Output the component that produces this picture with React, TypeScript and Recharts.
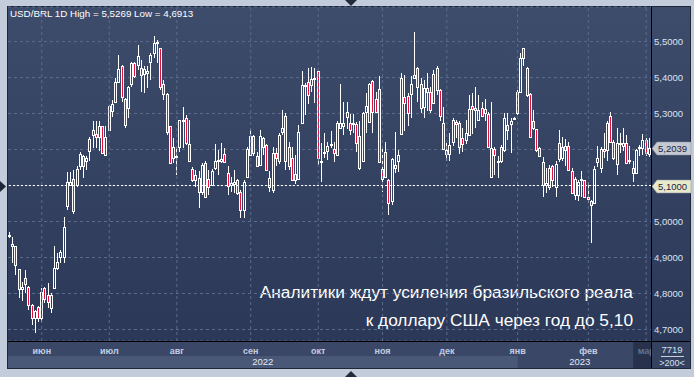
import React from 'react';
import { ComposedChart, Bar, XAxis, YAxis, CartesianGrid, ReferenceLine } from 'recharts';

// Trading-day index of the first session of each month shown on the time axis
const monthStarts = [10, 31, 52, 75, 96, 116, 136, 158, 180, 198];
const monthLabels = ['июн', 'июл', 'авг', 'сен', 'окт', 'ноя', 'дек', 'янв', 'фев', 'мар'];
const yearLabels = ['2022', '2023'];
const priceTicks = [4.7, 4.8, 4.9, 5.0, 5.1, 5.2, 5.3, 5.4, 5.5];
const targetLevel = 5.1;
const symbolTitle = 'USD/BRL 1D';
const headline = ['Аналитики ждут усиления бразильского реала', 'к доллару США через год до 5,10'];

// Daily USD/BRL candles, May 2022 - March 2023
const opens = [
  4.960, 4.931, 4.931, 4.868, 4.812, 4.843, 4.818, 4.768, 4.731, 4.762,
  4.733, 4.815, 4.795, 4.761, 4.815, 4.872, 4.900, 4.900, 5.042, 5.102,
  5.118, 5.102, 5.153, 5.182, 5.167, 5.197, 5.241, 5.244, 5.236, 5.264,
  5.185, 5.255, 5.306, 5.331, 5.387, 5.432, 5.340, 5.315, 5.382, 5.440,
  5.435, 5.426, 5.410, 5.412, 5.442, 5.468, 5.495, 5.481, 5.381, 5.354,
  5.264, 5.176, 5.178, 5.206, 5.281, 5.287, 5.215, 5.145, 5.116, 5.120,
  5.083, 5.162, 5.118, 5.102, 5.148, 5.169, 5.169, 5.187, 5.134, 5.102,
  5.105, 5.114, 5.083, 5.032, 5.125, 5.185, 5.238, 5.181, 5.157, 5.231,
  5.213, 5.120, 5.088, 5.190, 5.167, 5.248, 5.294, 5.206, 5.176, 5.131,
  5.119, 5.273, 5.378, 5.389, 5.378, 5.396, 5.417, 5.169, 5.190, 5.197,
  5.213, 5.201, 5.185, 5.261, 5.264, 5.289, 5.273, 5.273, 5.270, 5.238,
  5.167, 5.304, 5.276, 5.391, 5.341, 5.369, 5.146, 5.194, 5.116, 5.056,
  5.157, 5.169, 5.243, 5.347, 5.350, 5.354, 5.400, 5.426, 5.381, 5.319,
  5.361, 5.361, 5.329, 5.426, 5.366, 5.273, 5.187, 5.187, 5.220, 5.276,
  5.273, 5.231, 5.227, 5.241, 5.322, 5.315, 5.282, 5.315, 5.301, 5.298,
  5.125, 5.202, 5.165, 5.167, 5.199, 5.269, 5.270, 5.287, 5.301, 5.361,
  5.481, 5.426, 5.355, 5.278, 5.256, 5.204, 5.164, 5.102, 5.097, 5.155,
  5.095, 5.219, 5.176, 5.210, 5.210, 5.139, 5.074, 5.074, 5.114, 5.114,
  5.069, 5.057, 5.051, 5.164, 5.148, 5.201, 5.199, 5.294, 5.222, 5.160,
  5.216, 5.210, 5.218, 5.169, 5.148, 5.136, 5.204, 5.204, 5.227, 5.188,
];
const highs = [
  4.972, 4.958, 4.931, 4.868, 4.833, 4.864, 4.820, 4.770, 4.755, 4.765,
  4.815, 4.817, 4.829, 4.801, 4.932, 4.912, 4.921, 5.012, 5.137, 5.137,
  5.144, 5.153, 5.192, 5.185, 5.182, 5.234, 5.278, 5.278, 5.280, 5.266,
  5.266, 5.324, 5.338, 5.400, 5.463, 5.434, 5.342, 5.377, 5.442, 5.442,
  5.491, 5.449, 5.431, 5.431, 5.469, 5.516, 5.505, 5.483, 5.394, 5.356,
  5.266, 5.233, 5.208, 5.282, 5.318, 5.296, 5.282, 5.151, 5.144, 5.139,
  5.162, 5.167, 5.144, 5.145, 5.216, 5.199, 5.218, 5.204, 5.155, 5.125,
  5.144, 5.118, 5.088, 5.116, 5.208, 5.256, 5.240, 5.194, 5.255, 5.236,
  5.215, 5.139, 5.208, 5.204, 5.245, 5.310, 5.301, 5.222, 5.208, 5.185,
  5.267, 5.417, 5.384, 5.426, 5.428, 5.426, 5.419, 5.218, 5.245, 5.220,
  5.252, 5.220, 5.278, 5.381, 5.333, 5.331, 5.298, 5.298, 5.276, 5.278,
  5.304, 5.356, 5.384, 5.394, 5.361, 5.403, 5.206, 5.222, 5.118, 5.176,
  5.250, 5.199, 5.412, 5.407, 5.356, 5.403, 5.5269, 5.428, 5.398, 5.394,
  5.412, 5.375, 5.421, 5.431, 5.368, 5.319, 5.218, 5.245, 5.287, 5.282,
  5.278, 5.259, 5.282, 5.352, 5.356, 5.375, 5.352, 5.331, 5.341, 5.304,
  5.333, 5.206, 5.181, 5.213, 5.301, 5.301, 5.287, 5.289, 5.366, 5.468,
  5.483, 5.428, 5.357, 5.310, 5.258, 5.208, 5.179, 5.148, 5.157, 5.157,
  5.167, 5.253, 5.236, 5.229, 5.222, 5.148, 5.125, 5.116, 5.139, 5.116,
  5.111, 5.059, 5.153, 5.210, 5.206, 5.245, 5.278, 5.303, 5.227, 5.259,
  5.245, 5.259, 5.241, 5.210, 5.169, 5.201, 5.213, 5.243, 5.231, 5.231,
];
const lows = [
  4.954, 4.884, 4.852, 4.787, 4.778, 4.801, 4.755, 4.713, 4.6913, 4.722,
  4.722, 4.773, 4.759, 4.747, 4.812, 4.866, 4.884, 4.884, 5.032, 5.098,
  5.020, 5.097, 5.144, 5.122, 5.144, 5.169, 5.204, 5.204, 5.197, 5.188,
  5.182, 5.253, 5.290, 5.329, 5.385, 5.333, 5.261, 5.287, 5.375, 5.398,
  5.421, 5.361, 5.356, 5.370, 5.394, 5.454, 5.440, 5.366, 5.338, 5.241,
  5.160, 5.162, 5.130, 5.194, 5.204, 5.213, 5.164, 5.111, 5.097, 5.037,
  5.074, 5.065, 5.074, 5.099, 5.144, 5.130, 5.162, 5.164, 5.074, 5.083,
  5.079, 5.074, 5.009, 5.009, 5.123, 5.181, 5.182, 5.151, 5.153, 5.185,
  5.141, 5.083, 5.079, 5.153, 5.159, 5.241, 5.144, 5.144, 5.114, 5.104,
  5.116, 5.271, 5.296, 5.326, 5.361, 5.329, 5.157, 5.111, 5.176, 5.171,
  5.204, 5.165, 5.181, 5.259, 5.241, 5.257, 5.241, 5.245, 5.194, 5.144,
  5.165, 5.245, 5.273, 5.245, 5.301, 5.162, 5.083, 5.120, 5.019, 5.046,
  5.134, 5.137, 5.239, 5.252, 5.264, 5.287, 5.398, 5.331, 5.301, 5.287,
  5.306, 5.301, 5.326, 5.352, 5.278, 5.199, 5.167, 5.167, 5.211, 5.231,
  5.187, 5.193, 5.215, 5.239, 5.243, 5.259, 5.278, 5.289, 5.278, 5.204,
  5.122, 5.130, 5.120, 5.162, 5.194, 5.227, 5.190, 5.285, 5.296, 5.356,
  5.431, 5.347, 5.234, 5.255, 5.194, 5.179, 5.069, 5.079, 5.088, 5.095,
  5.068, 5.164, 5.167, 5.153, 5.142, 5.077, 5.060, 5.056, 5.069, 5.065,
  5.051, 4.940, 5.049, 5.151, 5.134, 5.176, 5.169, 5.218, 5.171, 5.130,
  5.190, 5.197, 5.160, 5.160, 5.111, 5.134, 5.181, 5.185, 5.182, 5.179,
];
const closes = [
  4.963, 4.937, 4.880, 4.812, 4.819, 4.827, 4.768, 4.733, 4.752, 4.733,
  4.804, 4.784, 4.777, 4.795, 4.872, 4.887, 4.915, 4.986, 5.111, 5.111,
  5.028, 5.145, 5.188, 5.155, 5.176, 5.229, 5.255, 5.236, 5.266, 5.190,
  5.236, 5.321, 5.327, 5.389, 5.423, 5.345, 5.267, 5.373, 5.440, 5.403,
  5.460, 5.407, 5.423, 5.419, 5.463, 5.497, 5.500, 5.373, 5.354, 5.248,
  5.162, 5.206, 5.181, 5.281, 5.282, 5.218, 5.167, 5.114, 5.130, 5.083,
  5.157, 5.069, 5.097, 5.139, 5.169, 5.171, 5.173, 5.165, 5.099, 5.108,
  5.111, 5.079, 5.032, 5.111, 5.201, 5.238, 5.190, 5.155, 5.238, 5.206,
  5.144, 5.097, 5.190, 5.176, 5.241, 5.259, 5.169, 5.153, 5.116, 5.116,
  5.248, 5.380, 5.380, 5.352, 5.396, 5.400, 5.176, 5.167, 5.192, 5.210,
  5.216, 5.189, 5.273, 5.275, 5.273, 5.304, 5.255, 5.275, 5.218, 5.148,
  5.301, 5.321, 5.381, 5.304, 5.304, 5.165, 5.119, 5.125, 5.051, 5.174,
  5.150, 5.185, 5.398, 5.329, 5.301, 5.381, 5.407, 5.375, 5.315, 5.370,
  5.370, 5.310, 5.409, 5.366, 5.292, 5.202, 5.199, 5.213, 5.282, 5.270,
  5.208, 5.215, 5.245, 5.312, 5.313, 5.310, 5.310, 5.292, 5.313, 5.206,
  5.204, 5.185, 5.169, 5.208, 5.287, 5.255, 5.278, 5.287, 5.359, 5.454,
  5.454, 5.352, 5.236, 5.259, 5.199, 5.181, 5.102, 5.108, 5.148, 5.116,
  5.160, 5.173, 5.208, 5.199, 5.144, 5.079, 5.118, 5.111, 5.118, 5.069,
  5.062, 5.046, 5.146, 5.176, 5.201, 5.197, 5.273, 5.222, 5.176, 5.219,
  5.219, 5.218, 5.162, 5.171, 5.136, 5.199, 5.208, 5.227, 5.190, 5.2039,
];

const candles = opens.map((o, i) => ({ i, o, h: highs[i], l: lows[i], c: closes[i] }));

const FONT = '"Liberation Sans", Arial, Helvetica, sans-serif';
const W = 694;
const H = 377;
const PLOT = { left: 8, top: 7, right: 651, bottom: 341 };
const PANEL_RIGHT = 690;
const STRIP_BOTTOM = 368;
const GRID = '#5b6b8d';
const UP_STROKE = '#ffffff';
const DOWN_FILL = '#e6103c';

const fmt = (v: number) => v.toFixed(4).replace('.', ',');
const lastClose = closes[closes.length - 1];
const periodHigh = Math.max(...highs);
const periodLow = Math.min(...lows);

// Axis labels that sit under a price tag are left blank
const tickText = (v: number) =>
  Math.abs(v - targetLevel) < 0.03 || Math.abs(v - lastClose) < 0.03 ? '' : fmt(v);

function Candle(props: any) {
  const { x, y, width, height, payload } = props;
  if (!payload || x == null || y == null) return null;
  const { o, h, l, c } = payload;
  const top = Math.min(y, y + height);
  const span = Math.abs(height);
  const toY = (v: number) => (h === l ? top : top + ((h - v) / (h - l)) * span);
  const col = Math.floor(x + width / 2);
  const hiY = Math.round(toY(h));
  const loY = Math.round(toY(l));
  const bTop = Math.round(toY(Math.max(o, c)));
  const bBot = Math.max(Math.round(toY(Math.min(o, c))), bTop + 1);
  const up = c >= o;
  const wx = col + 0.5;
  return (
    <g>
      {hiY < bTop && <line x1={wx} x2={wx} y1={hiY} y2={bTop} stroke={UP_STROKE} strokeWidth={1} />}
      {loY > bBot && <line x1={wx} x2={wx} y1={bBot + 1} y2={loY} stroke={UP_STROKE} strokeWidth={1} />}
      <rect
        x={col - 0.5}
        y={bTop + 0.5}
        width={2}
        height={bBot - bTop}
        fill={up ? 'none' : DOWN_FILL}
        stroke={UP_STROKE}
        strokeWidth={1}
      />
    </g>
  );
}

function MonthTick(props: any) {
  const { x, y, payload } = props;
  const k = monthStarts.indexOf(payload?.value);
  if (k < 0) return <g />;
  const label = monthLabels[k];
  const last = k === monthStarts.length - 1;
  const newYear = label === 'янв';
  return (
    <g fontFamily={FONT}>
      {newYear && (
        <g>
          <rect x={PLOT.left} y={y + 15} width={x - PLOT.left} height={STRIP_BOTTOM - (y + 15)} fill="#4a5878" />
          <text x={(PLOT.left + x) / 2} y={y + 24} textAnchor="middle" fontSize={9.5} fill="#e2e8f3">
            {yearLabels[0]}
          </text>
          <text x={(x + PLOT.right - 9) / 2} y={y + 24} textAnchor="middle" fontSize={9.5} fill="#e2e8f3">
            {yearLabels[1]}
          </text>
        </g>
      )}
      {last && <rect x={x - 13} y={y + 1} width={PLOT.right - (x - 13)} height={STRIP_BOTTOM - y - 1} fill="#28324c" />}
      <text
        x={x}
        y={y + 13}
        textAnchor="middle"
        fontSize={9}
        fontWeight="bold"
        fill={last ? '#67738e' : '#c4cee3'}
      >
        {label}
      </text>
    </g>
  );
}

function PriceTag({ viewBox, text, fill, pointer }: any) {
  if (!viewBox) return null;
  const x0 = viewBox.x + viewBox.width + 1;
  const cy = Math.round(viewBox.y) + 0.5;
  const hh = 6.5;
  return (
    <g>
      <polygon
        points={`${x0},${cy} ${x0 + 5},${cy - hh} ${PANEL_RIGHT + 1},${cy - hh} ${PANEL_RIGHT + 1},${cy + hh} ${x0 + 5},${cy + hh}`}
        fill={fill}
        stroke="#8a90a0"
        strokeWidth={0.5}
      />
      <text x={x0 + 6} y={cy + 3.5} fontFamily={FONT} fontSize={9.5} fill="#1b2440">
        {text}
      </text>
      {pointer && (
        <polygon
          points={`${viewBox.x - 8},${cy - 5.5} ${viewBox.x - 2},${cy} ${viewBox.x - 8},${cy + 5.5}`}
          fill="#1d2538"
        />
      )}
    </g>
  );
}

export default function App() {
  return (
    <div
      style={{
        position: 'absolute',
        left: 0,
        top: 0,
        width: W,
        height: H,
        background: '#c3ccda',
        overflow: 'hidden',
      }}
    >
      {/* panel backgrounds */}
      <svg width={W} height={H} style={{ position: 'absolute', left: 0, top: 0 }}>
        <defs>
          <linearGradient id="panelFill" x1="0" y1="0" x2="0" y2="1">
            <stop offset="0%" stopColor="#3e4c6b" />
            <stop offset="100%" stopColor="#2b3858" />
          </linearGradient>
        </defs>
        <rect x={PLOT.left - 1} y={PLOT.top - 1} width={PANEL_RIGHT - PLOT.left + 2} height={STRIP_BOTTOM - PLOT.top + 2} fill="#1e2638" />
        <rect x={PLOT.left} y={PLOT.top} width={PANEL_RIGHT - PLOT.left} height={PLOT.bottom - PLOT.top} fill="url(#panelFill)" />
        <rect x={PLOT.left} y={PLOT.bottom} width={PLOT.right - PLOT.left} height={STRIP_BOTTOM - PLOT.bottom} fill="#3a4767" />
        <text x={10} y={17} fontFamily={FONT} fontSize={9.8} fill="#ffffff">
          {`${symbolTitle} High = ${fmt(periodHigh)} Low = ${fmt(periodLow)}`}
        </text>
        <text x={633} y={298} textAnchor="end" fontFamily={FONT} fontSize={17.3} fill="#ffffff">
          {headline[0]}
        </text>
        <text x={633} y={326} textAnchor="end" fontFamily={FONT} fontSize={17.3} fill="#ffffff">
          {headline[1]}
        </text>
        <polygon points="345,0 357,0 351,6" fill="#222a3c" />
        <polygon points="345,377 357,377 351,371" fill="#222a3c" />
      </svg>

      <div style={{ position: 'absolute', left: 0, top: 0 }}>
        <ComposedChart
          width={W}
          height={H}
          data={candles}
          margin={{ top: PLOT.top, right: W - PANEL_RIGHT, bottom: H - STRIP_BOTTOM, left: PLOT.left }}
        >
          <CartesianGrid vertical={false} stroke={GRID} strokeDasharray="3 3" />
          {monthStarts.map((m) => (
            <ReferenceLine key={m} x={m} stroke={GRID} strokeDasharray="3 3" />
          ))}
          <XAxis
            dataKey="i"
            type="category"
            interval={0}
            tick={<MonthTick />}
            tickLine={false}
            tickSize={0}
            tickMargin={0}
            axisLine={false}
            height={STRIP_BOTTOM - PLOT.bottom}
          />
          <YAxis
            orientation="right"
            type="number"
            domain={[4.668, 5.596]}
            ticks={priceTicks}
            interval={0}
            allowDataOverflow
            tickFormatter={tickText}
            tick={{ fill: '#dbe3f3', fontSize: 9.5, fontFamily: FONT }}
            tickLine={false}
            tickSize={0}
            tickMargin={3}
            axisLine={false}
            width={PANEL_RIGHT - PLOT.right}
          />
          <Bar
            dataKey={(d: any) => [d.l, d.h]}
            barSize={3}
            isAnimationActive={false}
            shape={(p: any) => <Candle {...p} />}
          />
          <ReferenceLine
            y={targetLevel}
            stroke="#ffffff"
            strokeDasharray="2 2"
            label={(p: any) => <PriceTag viewBox={p.viewBox} text={fmt(targetLevel)} fill="#e8e8cb" pointer />}
          />
          <ReferenceLine
            y={lastClose}
            stroke="none"
            label={(p: any) => <PriceTag viewBox={p.viewBox} text={fmt(lastClose)} fill="#c5c9d1" />}
          />
        </ComposedChart>
      </div>

      {/* frame lines and the corner box */}
      <svg width={W} height={H} style={{ position: 'absolute', left: 0, top: 0, pointerEvents: 'none' }}>
        <rect x={PLOT.right + 1} y={PLOT.bottom} width={PANEL_RIGHT - PLOT.right - 1} height={STRIP_BOTTOM - PLOT.bottom} fill="#34415f" />
        <line x1={PLOT.right + 0.5} x2={PLOT.right + 0.5} y1={PLOT.top} y2={STRIP_BOTTOM} stroke="#000" />
        <line x1={PLOT.left} x2={PANEL_RIGHT} y1={PLOT.bottom + 0.5} y2={PLOT.bottom + 0.5} stroke="#000" />
        <text x={672} y={353} textAnchor="middle" fontFamily={FONT} fontSize={9.5} fill="#d8e0ef">7719</text>
        <line x1={661} x2={684} y1={356.5} y2={356.5} stroke="#c8d0e0" />
        <text x={672} y={366} textAnchor="middle" fontFamily={FONT} fontSize={9} fill="#d8e0ef">&gt;200&lt;</text>
      </svg>
    </div>
  );
}
